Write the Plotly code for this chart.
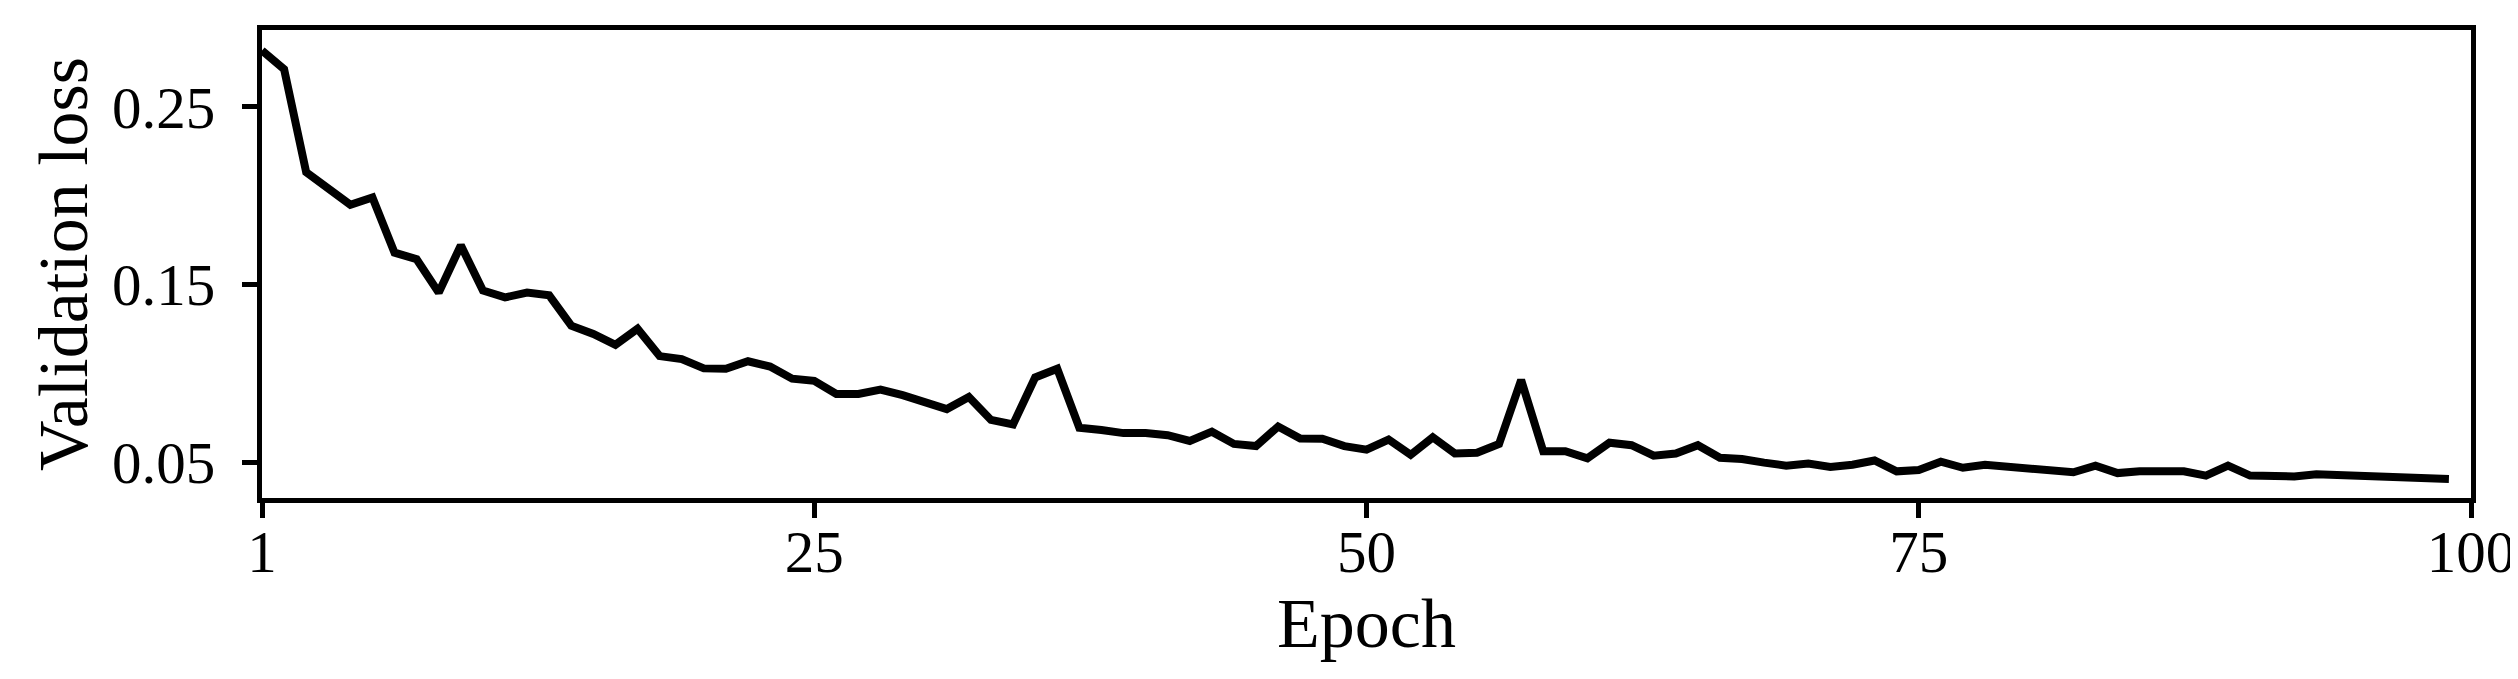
import plotly.graph_objects as go

# Epoch labels 1..100, plotted at index positions 0..99 (as in the reference)
epoch_index = list(range(100))
validation_loss = [
    0.2818, 0.2713, 0.2133, 0.2035, 0.1950, 0.1991, 0.1681, 0.1644, 0.1456, 0.1722,
    0.1468, 0.1429, 0.1456, 0.1441, 0.1270, 0.1224, 0.1163, 0.1253, 0.1099, 0.1082,
    0.1030, 0.1028, 0.1070, 0.1040, 0.0972, 0.0960, 0.0886, 0.0886, 0.0911, 0.0879,
    0.0842, 0.0801, 0.0869, 0.0740, 0.0715, 0.0979, 0.1028, 0.0696, 0.0683, 0.0666,
    0.0666, 0.0654, 0.0622, 0.0674, 0.0605, 0.0593, 0.0703, 0.0635, 0.0634, 0.0593,
    0.0573, 0.0630, 0.0544, 0.0642, 0.0551, 0.0556, 0.0605, 0.0965, 0.0564, 0.0564,
    0.0524, 0.0612, 0.0598, 0.0539, 0.0551, 0.0598, 0.0527, 0.0520, 0.0500, 0.0483,
    0.0495, 0.0476, 0.0488, 0.0512, 0.0451, 0.0458, 0.0505, 0.0471, 0.0488, 0.0476,
    0.0466, 0.0451, 0.0446, 0.0483, 0.0441, 0.0451, 0.0451, 0.0451, 0.0427, 0.0483,
    0.0427, 0.0427, 0.0422, 0.0434, 0.0429, 0.0427, 0.0422, 0.0414, 0.0410, 0.0408,
]
x_tickvals = [0, 25, 50, 75, 100]
x_ticktext = ["1", "25", "50", "75", "100"]
y_tickvals = [0.05, 0.15, 0.25]
y_ticktext = ["0.05", "0.15", "0.25"]

FONT = "Liberation Serif"
TICK_SIZE = 59
TITLE_SIZE = 70

fig = go.Figure()
fig.add_trace(go.Scatter(
    x=epoch_index, y=validation_loss, mode="lines",
    line=dict(color="black", width=8),
    showlegend=False, hoverinfo="skip",
))

fig.update_layout(
    width=2518, height=679,
    margin=dict(l=254, r=55, t=22, b=189),
    paper_bgcolor="white", plot_bgcolor="white",
    font=dict(family=FONT, color="black", size=TICK_SIZE),
)
fig.update_xaxes(
    range=[0, 100], tickvals=x_tickvals, ticktext=x_ticktext,
    showgrid=False, zeroline=False,
    showline=True, linecolor="black", linewidth=5, mirror=True,
    ticks="outside", ticklen=15, tickwidth=5, tickcolor="black",
    tickfont=dict(family=FONT, size=TICK_SIZE, color="black"),
    ticklabelstandoff=-17,
    title=dict(text="Epoch", font=dict(family=FONT, size=TITLE_SIZE, color="black"), standoff=16),
    automargin=False,
)
fig.update_yaxes(
    range=[0.0301, 0.2933], tickvals=y_tickvals, ticktext=y_ticktext,
    showgrid=False, zeroline=False,
    showline=True, linecolor="black", linewidth=5, mirror=True,
    ticks="outside", ticklen=15, tickwidth=5, tickcolor="black",
    tickfont=dict(family=FONT, size=TICK_SIZE, color="black"),
    ticklabelstandoff=15,
    title=dict(text="Validation loss", font=dict(family=FONT, size=TITLE_SIZE, color="black"), standoff=3),
    automargin=False,
)

fig.write_html("out.html")
